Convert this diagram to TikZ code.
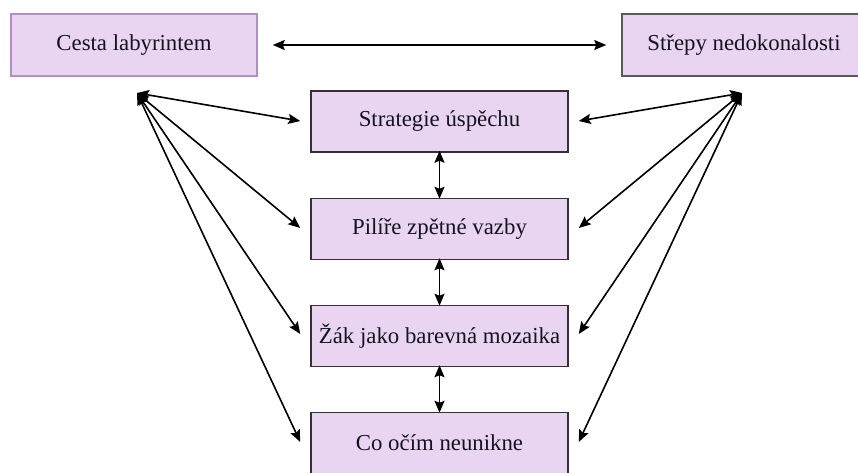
\documentclass[tikz,border=0pt]{standalone}
\usepackage{fontspec}
\setmainfont{Liberation Serif}
\usetikzlibrary{arrows.meta}
\definecolor{boxfill}{RGB}{233,213,242}
\definecolor{lightedge}{RGB}{180,140,198}
\definecolor{darkedge}{RGB}{50,50,50}
\definecolor{grayedge}{RGB}{90,90,90}
\definecolor{txt}{RGB}{20,20,30}
\begin{document}
\begin{tikzpicture}[x=1pt,y=-1pt,
  box/.style={draw=darkedge, line width=1.5pt, fill=boxfill, minimum width=257pt, minimum height=61pt,
    inner sep=0pt, text=txt, font=\fontsize{22.8}{26}\selectfont},
  conn/.style={line width=1.6pt, {Stealth[length=12pt,width=10pt,inset=2pt]}-{Stealth[length=12pt,width=10pt,inset=2pt]}}]
\useasboundingbox (0,0) rectangle (858,472);
\node[box, draw=lightedge, minimum width=246pt, minimum height=62pt] (cesta) at (134,45) {Cesta labyrintem};
\node[box, draw=grayedge, minimum width=250pt, minimum height=62pt] (strepy) at (747,45) {\hspace*{-6pt}Střepy nedokonalosti};
\node[box] (s1) at (439.5,121.5) {Strategie úspěchu};
\node[box] (s2) at (439.5,229) {Pilíře zpětné vazby};
\node[box] (s3) at (439.5,336) {Žák jako barevná mozaika};
\node[box] (s4) at (439.5,443) {Co očím neunikne};
\coordinate (lh) at (137,93);
\coordinate (rh) at (742,93);
\draw[conn] ([xshift=15pt]cesta.east) -- ([xshift=-15pt]strepy.west);
\foreach \n/\y in {s1/121,s2/228,s3/334,s4/442}{
  \draw[conn] (lh) -- ([xshift=-10pt]\n.west |- 0,\y);
  \draw[conn] (rh) -- ([xshift=10pt]\n.east |- 0,\y);
}
\draw[conn] ([yshift=2pt]s1.south) -- ([yshift=-1pt]s2.north);
\draw[conn] ([yshift=2pt]s2.south) -- ([yshift=-1pt]s3.north);
\draw[conn] ([yshift=2pt]s3.south) -- ([yshift=-1pt]s4.north);
\end{tikzpicture}
\end{document}
